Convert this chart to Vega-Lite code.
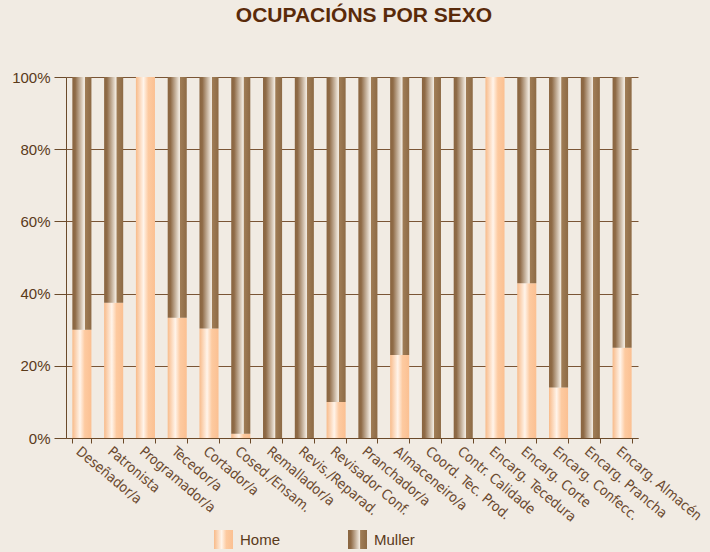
{
  "$schema": "https://vega.github.io/schema/vega-lite/v6.json",
  "width": 572,
  "height": 361,
  "autosize": "none",
  "padding": {"left": 66, "top": 77, "right": 72, "bottom": 114},
  "background": "#f1ebe3",
  "title": {
    "text": "OCUPACIÓNS POR SEXO",
    "anchor": "middle",
    "dx": 12,
    "offset": 44,
    "font": "Liberation Sans",
    "fontSize": 21,
    "fontWeight": "bold",
    "color": "#5a2a0a"
  },
  "data": {
    "values": [
      {"Ocupacion": "Deseñador/a", "Sexo": "Home", "Pct": 30},
      {"Ocupacion": "Deseñador/a", "Sexo": "Muller", "Pct": 70},
      {"Ocupacion": "Patronista", "Sexo": "Home", "Pct": 37.5},
      {"Ocupacion": "Patronista", "Sexo": "Muller", "Pct": 62.5},
      {"Ocupacion": "Programador/a", "Sexo": "Home", "Pct": 100},
      {"Ocupacion": "Programador/a", "Sexo": "Muller", "Pct": 0},
      {"Ocupacion": "Tecedor/a", "Sexo": "Home", "Pct": 33.3},
      {"Ocupacion": "Tecedor/a", "Sexo": "Muller", "Pct": 66.7},
      {"Ocupacion": "Cortador/a", "Sexo": "Home", "Pct": 30.3},
      {"Ocupacion": "Cortador/a", "Sexo": "Muller", "Pct": 69.7},
      {"Ocupacion": "Cosed./Ensam.", "Sexo": "Home", "Pct": 1.2},
      {"Ocupacion": "Cosed./Ensam.", "Sexo": "Muller", "Pct": 98.8},
      {"Ocupacion": "Remallador/a", "Sexo": "Home", "Pct": 0},
      {"Ocupacion": "Remallador/a", "Sexo": "Muller", "Pct": 100},
      {"Ocupacion": "Revis./Reparad.", "Sexo": "Home", "Pct": 0},
      {"Ocupacion": "Revis./Reparad.", "Sexo": "Muller", "Pct": 100},
      {"Ocupacion": "Revisador Conf.", "Sexo": "Home", "Pct": 10},
      {"Ocupacion": "Revisador Conf.", "Sexo": "Muller", "Pct": 90},
      {"Ocupacion": "Pranchador/a", "Sexo": "Home", "Pct": 0},
      {"Ocupacion": "Pranchador/a", "Sexo": "Muller", "Pct": 100},
      {"Ocupacion": "Almaceneiro/a", "Sexo": "Home", "Pct": 23},
      {"Ocupacion": "Almaceneiro/a", "Sexo": "Muller", "Pct": 77},
      {"Ocupacion": "Coord. Tec. Prod.", "Sexo": "Home", "Pct": 0},
      {"Ocupacion": "Coord. Tec. Prod.", "Sexo": "Muller", "Pct": 100},
      {"Ocupacion": "Contr. Calidade", "Sexo": "Home", "Pct": 0},
      {"Ocupacion": "Contr. Calidade", "Sexo": "Muller", "Pct": 100},
      {"Ocupacion": "Encarg. Tecedura", "Sexo": "Home", "Pct": 100},
      {"Ocupacion": "Encarg. Tecedura", "Sexo": "Muller", "Pct": 0},
      {"Ocupacion": "Encarg. Corte", "Sexo": "Home", "Pct": 42.9},
      {"Ocupacion": "Encarg. Corte", "Sexo": "Muller", "Pct": 57.1},
      {"Ocupacion": "Encarg. Confecc.", "Sexo": "Home", "Pct": 14},
      {"Ocupacion": "Encarg. Confecc.", "Sexo": "Muller", "Pct": 86},
      {"Ocupacion": "Encarg. Prancha", "Sexo": "Home", "Pct": 0},
      {"Ocupacion": "Encarg. Prancha", "Sexo": "Muller", "Pct": 100},
      {"Ocupacion": "Encarg. Almacén", "Sexo": "Home", "Pct": 25},
      {"Ocupacion": "Encarg. Almacén", "Sexo": "Muller", "Pct": 75}
    ]
  },
  "mark": {
    "type": "bar",
    "strokeWidth": 0,
    "fill": {"expr": "datum.Sexo === 'Home' ? {gradient: 'linear', x1: 0, x2: 1, y1: 0, y2: 0, stops: [{offset: 0, color: '#f8bb8a'}, {offset: 0.4, color: '#fff4ea'}, {offset: 0.65, color: '#fdcaa0'}, {offset: 1, color: '#fbc092'}]} : {gradient: 'linear', x1: 0, x2: 1, y1: 0, y2: 0, stops: [{offset: 0, color: '#8a6540'}, {offset: 0.15, color: '#8f6b47'}, {offset: 0.6, color: '#efe7dc'}, {offset: 0.64, color: '#efe7dc'}, {offset: 0.66, color: '#a07d56'}, {offset: 1, color: '#8d6a45'}]}"}
  },
  "encoding": {
    "x": {
      "field": "Ocupacion",
      "type": "nominal",
      "sort": null,
      "scale": {"paddingInner": 0.4, "paddingOuter": 0.2},
      "axis": {
        "title": null,
        "tickBand": "extent",
        "labelAngle": 40,
        "labelAlign": "left",
        "labelBaseline": "top",
        "labelPadding": 1,
        "labelFont": "Liberation Sans Narrow, DejaVu Sans Condensed, sans-serif",
        "labelFontSize": 14,
        "labelColor": "#6b4a30",
        "labelOverlap": false,
        "tickSize": 5,
        "tickColor": "#6b4a2a",
        "domainColor": "#6b4a2a",
        "grid": false
      }
    },
    "y": {
      "field": "Pct",
      "type": "quantitative",
      "stack": "normalize",
      "scale": {"domain": [0, 1]},
      "axis": {
        "title": null,
        "format": ".0%",
        "values": [0, 0.2, 0.4, 0.6, 0.8, 1],
        "labelFont": "Liberation Sans",
        "labelFontSize": 15,
        "labelColor": "#5a3a1a",
        "labelPadding": 4,
        "tickSize": 12,
        "tickColor": "#6b4a2a",
        "domainColor": "#6b4a2a",
        "grid": true,
        "gridColor": "#7a5535",
        "gridWidth": 1.2
      }
    },
    "order": {"field": "Sexo", "sort": "ascending"},
    "color": {
      "field": "Sexo",
      "type": "nominal",
      "scale": {
        "domain": ["Home", "Muller"],
        "range": [
          {"expr": "{gradient: 'linear', x1: 0, x2: 1, y1: 0, y2: 0, stops: [{offset: 0, color: '#f8bb8a'}, {offset: 0.4, color: '#fff4ea'}, {offset: 0.65, color: '#fdcaa0'}, {offset: 1, color: '#fbc092'}]}"},
          {"expr": "{gradient: 'linear', x1: 0, x2: 1, y1: 0, y2: 0, stops: [{offset: 0, color: '#8a6540'}, {offset: 0.15, color: '#8f6b47'}, {offset: 0.6, color: '#efe7dc'}, {offset: 0.64, color: '#efe7dc'}, {offset: 0.66, color: '#a07d56'}, {offset: 1, color: '#8d6a45'}]}"}
        ]
      },
      "legend": {
        "title": null,
        "orient": "none",
        "direction": "horizontal",
        "legendX": 148,
        "legendY": 453,
        "symbolType": "square",
        "symbolSize": 361,
        "symbolStrokeWidth": 0,
        "labelFont": "Liberation Sans",
        "labelFontSize": 15,
        "labelColor": "#5a3a1a",
        "labelOffset": 7,
        "columnPadding": 67,
        "symbolOpacity": 1
      }
    }
  },
  "config": {
    "view": {"stroke": null},
    "axis": {"domainWidth": 1, "tickWidth": 1}
  }
}
